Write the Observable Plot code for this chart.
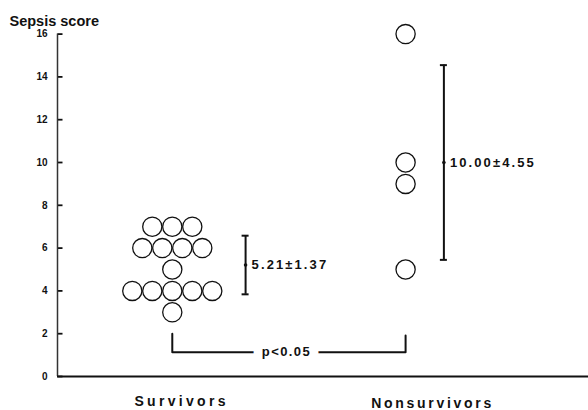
<!DOCTYPE html>
<html><head><meta charset="utf-8">
<script src="https://cdn.jsdelivr.net/npm/d3@7"></script>
<script src="https://cdn.jsdelivr.net/npm/@observablehq/plot@0.6"></script>
<style>
html,body{margin:0;padding:0;background:#fff;}
#chart svg{display:block;}
</style></head><body><div id="chart"></div>
<script>
// ---- data ----
const groups = ["Survivors", "Nonsurvivors"];
const survivorsScores = [7, 7, 7, 6, 6, 6, 6, 5, 4, 4, 4, 4, 4, 3];
const nonsurvivorsScores = [16, 10, 9, 5];
const means = [5.21, 10.00];
const sds = [1.37, 4.55];
const yTicks = [0, 2, 4, 6, 8, 10, 12, 14, 16];
const yTitle = "Sepsis score";
const pLabel = "p<0.05";

// ---- layout ----
const W = 588, H = 410;
const mL = 57, mR = 0, mT = 33.6, mB = 34;
const xDomain = [0.508, 2.784];
const pxPerUnit = (W - mL - mR) / (xDomain[1] - xDomain[0]);
const circleR = 9.6;
const stepX = 20 / pxPerUnit;
const barOffsetPx = [73.3, 38.3];
const capHalf = 3.5 / pxPerUnit;
const tickLen = 5 / pxPerUnit;
const bracketTop = [2.0, 1.92];
const bracketY = 1.13;
const font = "'Liberation Sans', Arial, Helvetica, sans-serif";

// circles arranged side by side within a row of equal scores
const points = [];
[survivorsScores, nonsurvivorsScores].forEach((arr, gi) => {
  const counts = d3.rollup(arr, v => v.length, d => d);
  const seen = new Map();
  arr.forEach(v => {
    const n = counts.get(v), k = seen.get(v) || 0;
    seen.set(v, k + 1);
    points.push({group: groups[gi], score: v, x: gi + 1 + (k - (n - 1) / 2) * stepX});
  });
});

const bars = groups.map((g, i) => ({
  group: g,
  x: i + 1 + barOffsetPx[i] / pxPerUnit,
  mean: means[i],
  lo: means[i] - sds[i],
  hi: means[i] + sds[i],
  label: `${means[i].toFixed(2)}±${sds[i].toFixed(2)}`
}));

const bracket = [
  {x: 1, y: bracketTop[0]},
  {x: 1, y: bracketY},
  {x: 2, y: bracketY},
  {x: 2, y: bracketTop[1]}
];

const tickRows = yTicks.map(v => ({v, a: xDomain[0], b: xDomain[0] + tickLen}));

const chart = Plot.plot({
  width: W, height: H,
  marginLeft: mL, marginRight: mR, marginTop: mT, marginBottom: mB,
  style: {fontFamily: font, fontSize: "10px", color: "#111", background: "#fff"},
  x: {domain: xDomain, axis: null},
  y: {domain: [0, 16], axis: null},
  marks: [
    // axes
    Plot.axisY({ticks: yTicks, tickSize: 0, tickPadding: 10, fontWeight: "bold", fontSize: 10, tickFormat: d => d}),
    Plot.link(tickRows, {x1: "a", x2: "b", y1: "v", y2: "v", strokeWidth: 1.8, stroke: "#111"}),
    Plot.ruleX([xDomain[0]], {y1: () => 0, y2: () => 16, strokeWidth: 1.5, stroke: "#333"}),
    Plot.ruleY([0], {strokeWidth: 2, stroke: "#111"}),
    Plot.text([yTitle], {frameAnchor: "top-left", dx: -48, dy: -7.6, textAnchor: "start", lineAnchor: "bottom", fontSize: 14.5, fontWeight: "bold", fill: "#111"}),
    Plot.text([groups[0]], {x: 1, y: 0, dx: 9.3, dy: 29, lineAnchor: "bottom", fontSize: 14, fontWeight: "bold", fill: "#111"}),
    Plot.text([groups[1]], {x: 2, y: 0, dx: 27, dy: 31, lineAnchor: "bottom", fontSize: 14, fontWeight: "bold", fill: "#111"}),
    // comparison bracket
    Plot.line(bracket, {x: "x", y: "y", stroke: "#111", strokeWidth: 2, curve: "linear"}),
    Plot.text([pLabel], {x: 1.5, y: bracketY, dx: -2.5, fontSize: 13, fontWeight: "bold", fill: "#111", stroke: "white", strokeWidth: 18}),
    // individual scores
    Plot.dot(points, {x: "x", y: "score", r: circleR, stroke: "#111", strokeWidth: 1.3, fill: "white"}),
    // mean ± SD bars
    Plot.ruleX(bars, {x: "x", y1: "lo", y2: "hi", stroke: "#111", strokeWidth: 2}),
    Plot.ruleY(bars, {y: "hi", x1: d => d.x - capHalf, x2: d => d.x + capHalf, stroke: "#111", strokeWidth: 2}),
    Plot.ruleY(bars, {y: "lo", x1: d => d.x - capHalf, x2: d => d.x + capHalf, stroke: "#111", strokeWidth: 2}),
    Plot.dot(bars, {x: "x", y: "mean", r: 1.8, fill: "#111"}),
    Plot.text(bars, {x: "x", y: "mean", text: "label", dx: 6, textAnchor: "start", fontSize: 13, fontWeight: "bold", fill: "#111"})
  ]
});

const sel = d3.select(chart);
const spacing = new Map([[groups[0], 3.3], [groups[1], 2.7], [pLabel, 1.4]]);
bars.forEach(b => spacing.set(b.label, 2.1));
sel.selectAll("text").each(function() {
  const ls = spacing.get(this.textContent);
  if (ls != null) this.setAttribute("letter-spacing", ls);
});
document.getElementById("chart").appendChild(chart);
</script>
</body></html>
